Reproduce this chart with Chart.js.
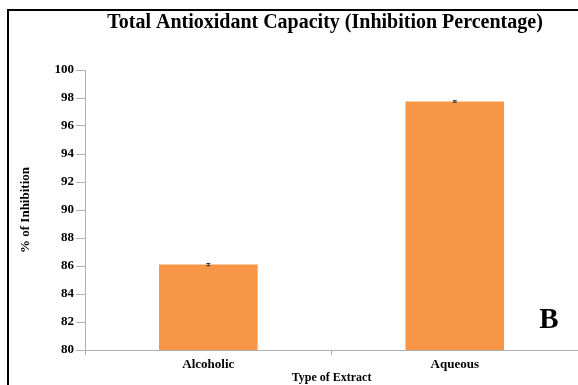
<!DOCTYPE html>
<html>
<head>
<meta charset="utf-8">
<script src="https://cdn.jsdelivr.net/npm/chart.js@4"></script>
<style>
    html, body { margin: 0; padding: 0; background: #fff; }
    #wrap { width: 578px; height: 385px; position: relative; }
</style>
</head>
<body>
<div id="wrap"><canvas id="chart" width="578" height="385"></canvas></div>
<script>
// Chart data
const categories = ["Alcoholic", "Aqueous"];
const inhibition = [86.1, 97.75];
const errors = [0.08, 0.06];
const yTicks = [80, 82, 84, 86, 88, 90, 92, 94, 96, 98, 100];
const chartTitle = "Total Antioxidant Capacity (Inhibition Percentage)";

const serif = "'Liberation Serif', 'Times New Roman', serif";

// Small error bars on top of each bar
const errorBarPlugin = {
    id: "errorBars",
    afterDatasetsDraw(chart) {
        const ctx = chart.ctx;
        const meta = chart.getDatasetMeta(0);
        const y = chart.scales.y;
        ctx.save();
        ctx.strokeStyle = "#333";
        ctx.lineWidth = 1;
        meta.data.forEach((bar, i) => {
            const top = y.getPixelForValue(inhibition[i] + errors[i]);
            const bot = y.getPixelForValue(inhibition[i] - errors[i]);
            ctx.beginPath();
            ctx.moveTo(bar.x, top);
            ctx.lineTo(bar.x, bot);
            ctx.moveTo(bar.x - 2, top);
            ctx.lineTo(bar.x + 2, top);
            ctx.moveTo(bar.x - 2, bot);
            ctx.lineTo(bar.x + 2, bot);
            ctx.stroke();
        });
        ctx.restore();
    }
};

// Figure frame, title (offset right like the original) and panel letter
const framePlugin = {
    id: "frame",
    afterDraw(chart) {
        const ctx = chart.ctx;
        ctx.save();
        ctx.strokeStyle = "#000";
        ctx.lineWidth = 2;
        ctx.beginPath();
        ctx.moveTo(8, 385);
        ctx.lineTo(8, 10);
        ctx.lineTo(578, 10);
        ctx.stroke();
        ctx.fillStyle = "#000";
        ctx.textAlign = "center";
        ctx.textBaseline = "middle";
        ctx.font = "bold 20px " + serif;
        ctx.fillText(chartTitle, 325, 23);
        ctx.font = "bold 29px " + serif;
        ctx.fillText("B", 549, 321);
        ctx.restore();
    }
};

new Chart(document.getElementById("chart"), {
    type: "bar",
    data: {
        labels: categories,
        datasets: [{
            data: inhibition,
            backgroundColor: "#F79646",
            borderWidth: 0,
            categoryPercentage: 1,
            barPercentage: 0.4
        }]
    },
    options: {
        responsive: false,
        animation: false,
        layout: { padding: { left: 18, right: 0, top: 70, bottom: 0 } },
        plugins: {
            legend: { display: false },
            tooltip: { enabled: false },
            title: { display: false }
        },
        scales: {
            x: {
                grid: {
                    offset: true,
                    drawOnChartArea: false,
                    drawTicks: true,
                    tickLength: 5,
                    color: "#b0b0b0"
                },
                border: { color: "#b0b0b0" },
                ticks: {
                    color: "#000",
                    font: { family: serif, size: 13, weight: "bold" },
                    padding: 2
                },
                title: {
                    display: true,
                    text: "Type of Extract",
                    color: "#000",
                    font: { family: serif, size: 12, weight: "bold" },
                    padding: { top: -4, bottom: 0 }
                }
            },
            y: {
                min: 80,
                max: 100,
                afterBuildTicks: (axis) => {
                    axis.ticks = yTicks.map(v => ({ value: v }));
                },
                grid: {
                    drawOnChartArea: false,
                    drawTicks: true,
                    tickLength: 9,
                    color: "#b0b0b0"
                },
                border: { color: "#b0b0b0" },
                ticks: {
                    color: "#000",
                    font: { family: serif, size: 13, weight: "bold" },
                    padding: 2
                },
                title: {
                    display: true,
                    text: "% of Inhibition",
                    color: "#000",
                    font: { family: serif, size: 13, weight: "bold" },
                    padding: { top: 0, bottom: 19 }
                }
            }
        }
    },
    plugins: [errorBarPlugin, framePlugin]
});
</script>
</body>
</html>
